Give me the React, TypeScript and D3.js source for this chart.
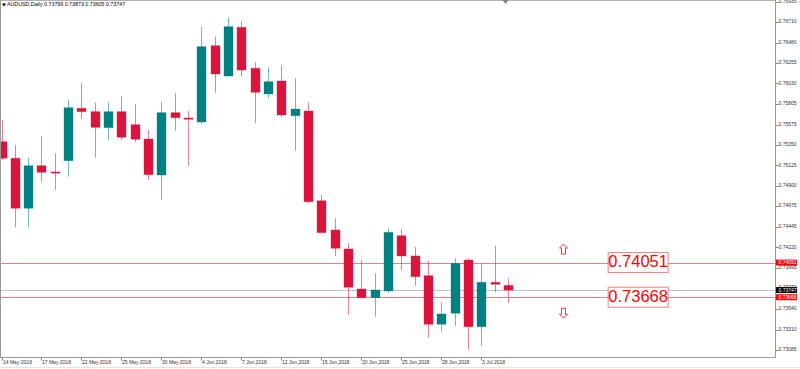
import React from 'react';
import * as d3 from 'd3';

const dates = [
  '14 May', '15 May', '16 May', '17 May', '18 May', '21 May', '22 May', '23 May', '24 May', '25 May',
  '28 May', '29 May', '30 May', '31 May', '1 Jun', '4 Jun', '5 Jun', '6 Jun', '7 Jun', '8 Jun',
  '11 Jun', '12 Jun', '13 Jun', '14 Jun', '15 Jun', '18 Jun', '19 Jun', '20 Jun', '21 Jun', '22 Jun',
  '25 Jun', '26 Jun', '27 Jun', '28 Jun', '29 Jun', '2 Jul', '3 Jul', '4 Jul', '5 Jul',
];
const opens = [
  0.75386, 0.75203, 0.74651, 0.75121, 0.75052, 0.75176, 0.75755, 0.75718, 0.75541, 0.75718,
  0.75574, 0.75416, 0.75018, 0.75707, 0.75648, 0.75604, 0.76447, 0.76112, 0.76650, 0.76197,
  0.75913, 0.76057, 0.75673, 0.75725, 0.74734, 0.74411, 0.74201, 0.73759, 0.73663, 0.73737,
  0.74348, 0.74124, 0.73906, 0.73369, 0.73491, 0.74079, 0.73342, 0.73833, 0.73799,
];
const highs = [
  0.75626, 0.75350, 0.75210, 0.75449, 0.75258, 0.75847, 0.76031, 0.75817, 0.75817, 0.75891,
  0.75803, 0.75516, 0.75828, 0.75921, 0.75725, 0.76657, 0.76546, 0.76760, 0.76720, 0.76263,
  0.76208, 0.76234, 0.76087, 0.75817, 0.74797, 0.74540, 0.74264, 0.74079, 0.73932, 0.74430,
  0.74422, 0.74226, 0.74068, 0.73615, 0.74098, 0.74098, 0.74043, 0.74237, 0.73873,
];
const lows = [
  0.75184, 0.74441, 0.74441, 0.74944, 0.74853, 0.75000, 0.75637, 0.75210, 0.75405, 0.75405,
  0.75380, 0.74963, 0.74742, 0.75508, 0.75121, 0.75578, 0.75928, 0.76104, 0.76112, 0.75590,
  0.75866, 0.75656, 0.75287, 0.74712, 0.74374, 0.74124, 0.73472, 0.73656, 0.73453, 0.73712,
  0.73961, 0.73792, 0.73221, 0.73287, 0.73350, 0.73093, 0.73129, 0.73729, 0.73605,
];
const closes = [
  0.75203, 0.74651, 0.75121, 0.75048, 0.75040, 0.75762, 0.75718, 0.75545, 0.75718, 0.75435,
  0.75413, 0.75022, 0.75707, 0.75651, 0.75634, 0.76436, 0.76134, 0.76657, 0.76178, 0.75932,
  0.76049, 0.75681, 0.75747, 0.74723, 0.74381, 0.74209, 0.73778, 0.73663, 0.73748, 0.74385,
  0.74124, 0.73895, 0.73369, 0.73483, 0.74043, 0.73342, 0.73833, 0.73811, 0.73747,
];

const priceTicks = [
  0.76935, 0.76710, 0.76480, 0.76255, 0.76030, 0.75805, 0.75575, 0.75350, 0.75125, 0.74900,
  0.74675, 0.74445, 0.74220, 0.73995, 0.73770, 0.73540, 0.73310, 0.73085,
];
const dateTickIdx = [0, 3, 6, 9, 12, 15, 18, 21, 24, 27, 30, 33, 36];
const dateTickLabels = [
  '14 May 2018', '17 May 2018', '22 May 2018', '25 May 2018', '30 May 2018', '4 Jun 2018',
  '7 Jun 2018', '12 Jun 2018', '15 Jun 2018', '20 Jun 2018', '25 Jun 2018', '28 Jun 2018', '3 Jul 2018',
];
const levelPrices = [0.74051, 0.73668];
const lastPrice = 0.73747;
const title = 'AUDUSD,Daily  0.73799 0.73873 0.73605 0.73747';

const W = 800;
const H = 369;
const AXIS_X = 775.5;
const AXIS_Y = 357.5;
const BULL = '#008080';
const BEAR = '#dc143c';
const LEVEL = '#f08080';
const FONT = "'Liberation Sans', Arial, sans-serif";

export default function App() {
  const x = d3.scaleLinear().domain([0, 58]).range([1.5, 774.8]);
  const y = d3.scaleLinear().domain([0.73085, 0.76935]).range([350, 1.5]);
  const fmt = d3.format('.5f');

  const candles = dates.map((d, i) => ({
    d,
    i,
    o: opens[i],
    h: highs[i],
    l: lows[i],
    c: closes[i],
  }));

  const bw = 9;

  const upArrow = (cx: number, cy: number) =>
    `M${cx},${cy - 5} L${cx + 4},${cy - 1} L${cx + 2},${cy - 1} L${cx + 2},${cy + 5} L${cx - 2},${cy + 5} L${cx - 2},${cy - 1} L${cx - 4},${cy - 1} Z`;
  const downArrow = (cx: number, cy: number) =>
    `M${cx},${cy + 5} L${cx + 4},${cy + 1} L${cx + 2},${cy + 1} L${cx + 2},${cy - 5} L${cx - 2},${cy - 5} L${cx - 2},${cy + 1} L${cx - 4},${cy + 1} Z`;

  const arrowX = Math.round(x(42.1)) + 0.5;
  const boxX = x(45.5);

  return (
    <svg
      width={W}
      height={H}
      style={{ position: 'absolute', left: 0, top: 0, background: '#fff' }}
      fontFamily={FONT}
    >
      <rect x={0} y={0} width={W} height={H} fill="#fff" />
      <line x1={0} x2={W} y1={367.5} y2={367.5} stroke="#e4e4e4" />

      {/* level lines */}
      <line x1={0} x2={AXIS_X} y1={Math.round(y(lastPrice)) + 0.5} y2={Math.round(y(lastPrice)) + 0.5} stroke="#bcc4cc" />
      {levelPrices.map((p) => (
        <line key={p} x1={0} x2={AXIS_X} y1={Math.round(y(p)) + 0.5} y2={Math.round(y(p)) + 0.5} stroke={LEVEL} />
      ))}

      {/* candles */}
      {candles.map((k) => {
        const cx = Math.round(x(k.i)) + 0.5;
        const up = k.c >= k.o;
        const col = up ? BULL : BEAR;
        const top = y(Math.max(k.o, k.c));
        const bot = y(Math.min(k.o, k.c));
        return (
          <g key={k.d}>
            <line x1={cx} x2={cx} y1={y(k.h)} y2={y(k.l)} stroke={col} strokeOpacity={0.55} strokeWidth={1} />
            <rect
              x={cx - bw / 2}
              y={top}
              width={bw}
              height={Math.max(1.2, bot - top)}
              fill={col}
              stroke={col}
              strokeOpacity={0.35}
              strokeWidth={1}
            />
          </g>
        );
      })}

      {/* frame */}
      <line x1={0.5} x2={0.5} y1={0} y2={AXIS_Y} stroke="#9a9a9a" />
      <line x1={0} x2={AXIS_X} y1={0.5} y2={0.5} stroke="#b0b0b0" />
      <line x1={AXIS_X} x2={AXIS_X} y1={0} y2={AXIS_Y} stroke="#9a9a9a" />
      <line x1={0} x2={AXIS_X} y1={AXIS_Y} y2={AXIS_Y} stroke="#9a9a9a" />

      {/* chart shift marker */}
      <path d={`M${x(37.8) - 3},0 L${x(37.8) + 3},0 L${x(37.8)},4 Z`} fill="#808080" />

      {/* title */}
      <path d="M2,3.5 L6,3.5 L4,6.5 Z" fill="#000" />
      <text x={7} y={5} fontSize={5.3} dominantBaseline="middle" fill="#000">
        {title}
      </text>

      {/* right axis */}
      {priceTicks.map((p) => (
        <g key={p}>
          <line x1={AXIS_X} x2={AXIS_X + 3} y1={Math.round(y(p)) + 0.5} y2={Math.round(y(p)) + 0.5} stroke="#808080" />
          <text x={778.5} y={y(p)} fontSize={5} dominantBaseline="middle" fill="#333">
            {fmt(p)}
          </text>
        </g>
      ))}
      {levelPrices.map((p) => (
        <g key={'b' + p}>
          <rect x={AXIS_X + 0.5} y={y(p) - 3} width={21} height={6} fill="#ff0000" />
          <text x={778.5} y={y(p) + 0.2} fontSize={5} dominantBaseline="middle" fill="#fff">
            {fmt(p)}
          </text>
        </g>
      ))}
      <rect x={AXIS_X + 0.5} y={y(lastPrice) - 3} width={21} height={6} fill="#000" />
      <text x={778.5} y={y(lastPrice) + 0.2} fontSize={5} dominantBaseline="middle" fill="#fff">
        {fmt(lastPrice)}
      </text>

      {/* bottom axis */}
      {dateTickIdx.map((idx, j) => {
        const tx = Math.round(x(idx)) + 0.5;
        return (
          <g key={idx}>
            <line x1={tx} x2={tx} y1={AXIS_Y} y2={AXIS_Y + 3} stroke="#808080" />
            <text x={tx + 0.5} y={363} fontSize={5} dominantBaseline="middle" fill="#333">
              {dateTickLabels[j]}
            </text>
          </g>
        );
      })}

      {/* level annotations */}
      {levelPrices.map((p) => (
        <g key={'l' + p}>
          <rect x={boxX} y={y(p) - 10} width={60} height={20} fill="#fff" stroke={LEVEL} strokeWidth={1} />
          <text x={boxX + 30} y={y(p) + 0.5} fontSize={16.5} textAnchor="middle" dominantBaseline="middle" fill="#ff0000">
            {fmt(p)}
          </text>
        </g>
      ))}
      <path d={upArrow(arrowX, y(levelPrices[0]) - 13.5)} fill="#fff" stroke="#ff3030" strokeWidth={1} />
      <path d={downArrow(arrowX, y(levelPrices[1]) + 16)} fill="#fff" stroke="#ff3030" strokeWidth={1} />
    </svg>
  );
}
